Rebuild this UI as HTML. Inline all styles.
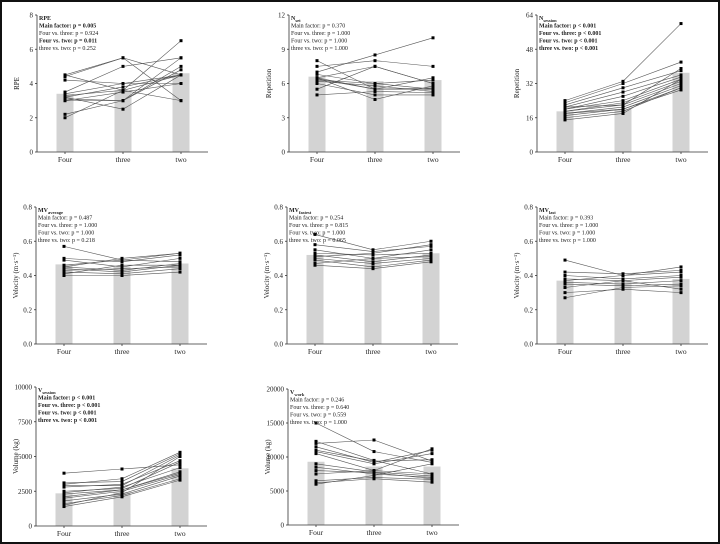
<!DOCTYPE html>
<html><head><meta charset="utf-8"><style>
html,body{margin:0;padding:0;background:#fff}
#w{width:716px;height:540px;border:2px solid #111;position:relative;overflow:hidden}
svg{position:absolute;left:0;top:0}
text{font-family:"Liberation Serif",serif;fill:#222}
</style></head><body><div id="w"><svg id="s" width="716" height="540" viewBox="2 2 716 540"></svg></div>
<script>
var P=[
{ax:37,top:15,base:152,max:8,ticks:[0,2,4,6,8],yl:"RPE",bars:[3.4,3.6,4.6],
 t:["RPE","Main factor: p = 0.005","Four vs. three: p = 0.924","Four vs. two: p = 0.011","three vs. two: p = 0.252"],b:[1,1,0,1,0],
 d:[[4.5,5.5,3],[4.4,5.5,4.5],[4.2,4,4],[4.5,3.6,3],[3.5,5,5.5],[3.3,3.6,4.5],[3.2,3.8,4.5],[3,3,5],[3.2,2.5,4.5],[3,3.5,4],[2.2,3,4.8],[2,3.6,6.5],[3.4,4,4.5],[3.1,3,5.5]]},
{ax:289,top:15,base:152,max:12,ticks:[0,3,6,9,12],yl:"Repetition",bars:[6.6,6.2,6.3],
 t:["N_set","Main factor: p = 0.370","Four vs. three: p = 1.000","Four vs. two: p = 1.000","three vs. two: p = 1.000"],b:[1,0,0,0,0],
 d:[[8,5.5,5.5],[7.5,8,7.5],[7,8.5,10],[6.5,7.5,6],[6.5,5.5,6.5],[6.3,6,5.5],[6.2,5.8,5.3],[6,5,5],[6.5,4.6,5.8],[5.5,7.5,6],[5,5.3,5.2],[6.8,6,6.3],[6.4,5.5,5.6]]},
{ax:537,top:15,base:152,max:64,ticks:[0,16,32,48,64],yl:"Repetition",bars:[19,20,37],
 t:["N_session","Main factor: p < 0.001","Four vs. three: p < 0.001","Four vs. two: p < 0.001","three vs. two: p < 0.001"],b:[1,1,1,1,1],
 d:[[24,33,60],[23,32,42],[22,30,38],[21,28,36],[20,26,35],[20,24,34],[19,23,33],[19,22,32],[18,21,31],[18,20,30],[17,20,29],[16,19,30],[15,18,34],[21,22,39]]},
{ax:36,top:207,base:344,max:0.8,ticks:[0,0.2,0.4,0.6,0.8],yl:"Velocity (m·s⁻¹)",bars:[0.465,0.45,0.47],f:1,
 t:["MV_average","Main factor: p = 0.487","Four vs. three: p = 1.000","Four vs. two: p = 1.000","three vs. two: p = 0.218"],b:[1,0,0,0,0],
 d:[[0.57,0.49,0.53],[0.5,0.48,0.52],[0.49,0.45,0.5],[0.46,0.49,0.48],[0.45,0.43,0.47],[0.44,0.42,0.46],[0.43,0.44,0.45],[0.42,0.41,0.44],[0.4,0.4,0.42],[0.41,0.46,0.46],[0.45,0.5,0.53]]},
{ax:287,top:207,base:344,max:0.8,ticks:[0,0.2,0.4,0.6,0.8],yl:"Velocity (m·s⁻¹)",bars:[0.52,0.5,0.53],f:1,
 t:["MV_fastest","Main factor: p = 0.254","Four vs. three: p = 0.815","Four vs. two: p = 1.000","three vs. two: p = 0.065"],b:[1,0,0,0,0],
 d:[[0.64,0.55,0.6],[0.58,0.54,0.57],[0.55,0.5,0.55],[0.53,0.52,0.53],[0.52,0.48,0.52],[0.5,0.47,0.5],[0.49,0.45,0.49],[0.47,0.5,0.51],[0.46,0.44,0.48],[0.51,0.53,0.58]]},
{ax:537,top:207,base:344,max:0.8,ticks:[0,0.2,0.4,0.6,0.8],yl:"Velocity (m·s⁻¹)",bars:[0.37,0.37,0.38],f:1,
 t:["MV_last","Main factor: p = 0.393","Four vs. three: p = 1.000","Four vs. two: p = 1.000","three vs. two: p = 1.000"],b:[1,0,0,0,0],
 d:[[0.49,0.4,0.45],[0.42,0.41,0.43],[0.4,0.38,0.4],[0.38,0.37,0.39],[0.36,0.35,0.37],[0.35,0.34,0.35],[0.33,0.37,0.32],[0.3,0.32,0.3],[0.27,0.33,0.34],[0.37,0.4,0.42]]},
{ax:36,top:387,base:526,max:10000,ticks:[0,2500,5000,7500,10000],yl:"Volume (kg)",bars:[2350,2450,4150],
 t:["V_session","Main factor: p < 0.001","Four vs. three: p < 0.001","Four vs. two: p < 0.001","three vs. two: p < 0.001"],b:[1,1,1,1,1],
 d:[[3800,4100,4400],[3000,3400,5300],[3100,3200,5200],[2900,2900,5100],[2800,3000,4700],[2500,2700,4600],[2400,2800,4200],[2300,2600,3900],[2100,2600,3800],[2000,2500,3700],[1800,2300,3600],[1600,2200,3400],[1400,2100,3300],[1500,2400,5000]]},
{ax:288,top:389,base:525,max:20000,ticks:[0,5000,10000,15000,20000],yl:"Volume (kg)",bars:[9300,8600,8600],
 t:["V_work","Main factor: p = 0.246","Four vs. three: p = 0.640","Four vs. two: p = 0.559","three vs. two: p = 1.000"],b:[1,0,0,0,0],
 d:[[15000,10800,9200],[12300,9500,7500],[12000,12500,9400],[11500,9200,11000],[10800,9000,10500],[10500,8000,11200],[9000,7800,7200],[8500,7500,7000],[8000,7700,6800],[7500,8000,7500],[6500,7000,6700],[6200,6800,6300],[6000,7300,9000],[11000,9400,9600]]}
];
var s='';
function fmt(v,p){return p.f?v.toFixed(1):String(v);}
P.forEach(function(p){
 var h=p.base-p.top,Y=function(v){return p.base-v/p.max*h;};
 var cx=[p.ax+28,p.ax+86,p.ax+144];
 p.bars.forEach(function(b,i){s+='<rect x="'+(cx[i]-8.5)+'" y="'+Y(b)+'" width="17" height="'+(p.base-Y(b))+'" fill="#d3d3d3"/>';});
 p.d.forEach(function(r){
  s+='<polyline points="'+r.map(function(v,i){return cx[i]+','+Y(v);}).join(' ')+'" fill="none" stroke="#555" stroke-width="0.6"/>';
  r.forEach(function(v,i){s+='<rect x="'+(cx[i]-1.5)+'" y="'+(Y(v)-1.5)+'" width="3" height="3" fill="#000"/>';});
 });
 s+='<line x1="'+p.ax+'" y1="'+p.top+'" x2="'+p.ax+'" y2="'+p.base+'" stroke="#333" stroke-width="0.8"/>';
 s+='<line x1="'+p.ax+'" y1="'+p.base+'" x2="'+(p.ax+171)+'" y2="'+p.base+'" stroke="#333" stroke-width="0.8"/>';
 p.ticks.forEach(function(t){var y=Y(t);s+='<line x1="'+(p.ax-2)+'" y1="'+y+'" x2="'+p.ax+'" y2="'+y+'" stroke="#333" stroke-width="0.8"/><text x="'+(p.ax-4)+'" y="'+(y+2.5)+'" font-size="7" text-anchor="end">'+fmt(t,p)+'</text>';});
 ["Four","three","two"].forEach(function(l,i){s+='<line x1="'+cx[i]+'" y1="'+p.base+'" x2="'+cx[i]+'" y2="'+(p.base+2)+'" stroke="#333" stroke-width="0.8"/><text x="'+cx[i]+'" y="'+(p.base+10)+'" font-size="7.5" text-anchor="middle">'+l+'</text>';});
 var my=(p.top+p.base)/2;
 s+='<text transform="translate('+(p.ax-18)+','+my+') rotate(-90)" font-size="7" text-anchor="middle">'+p.yl+'</text>';
 p.t.forEach(function(t,i){var y=p.top+5+i*7.5,tx=t;
  if(i==0&&t.indexOf('_')>0){var q=t.split('_');tx=q[0]+'<tspan font-size="4.5" dy="2">'+q[1]+'</tspan>';}
  s+='<text x="'+(p.ax+2)+'" y="'+y+'" font-size="6" '+(p.b[i]?'font-weight="bold"':'')+'>'+tx+'</text>';});
});
document.getElementById('s').innerHTML=s;
</script></body></html>
